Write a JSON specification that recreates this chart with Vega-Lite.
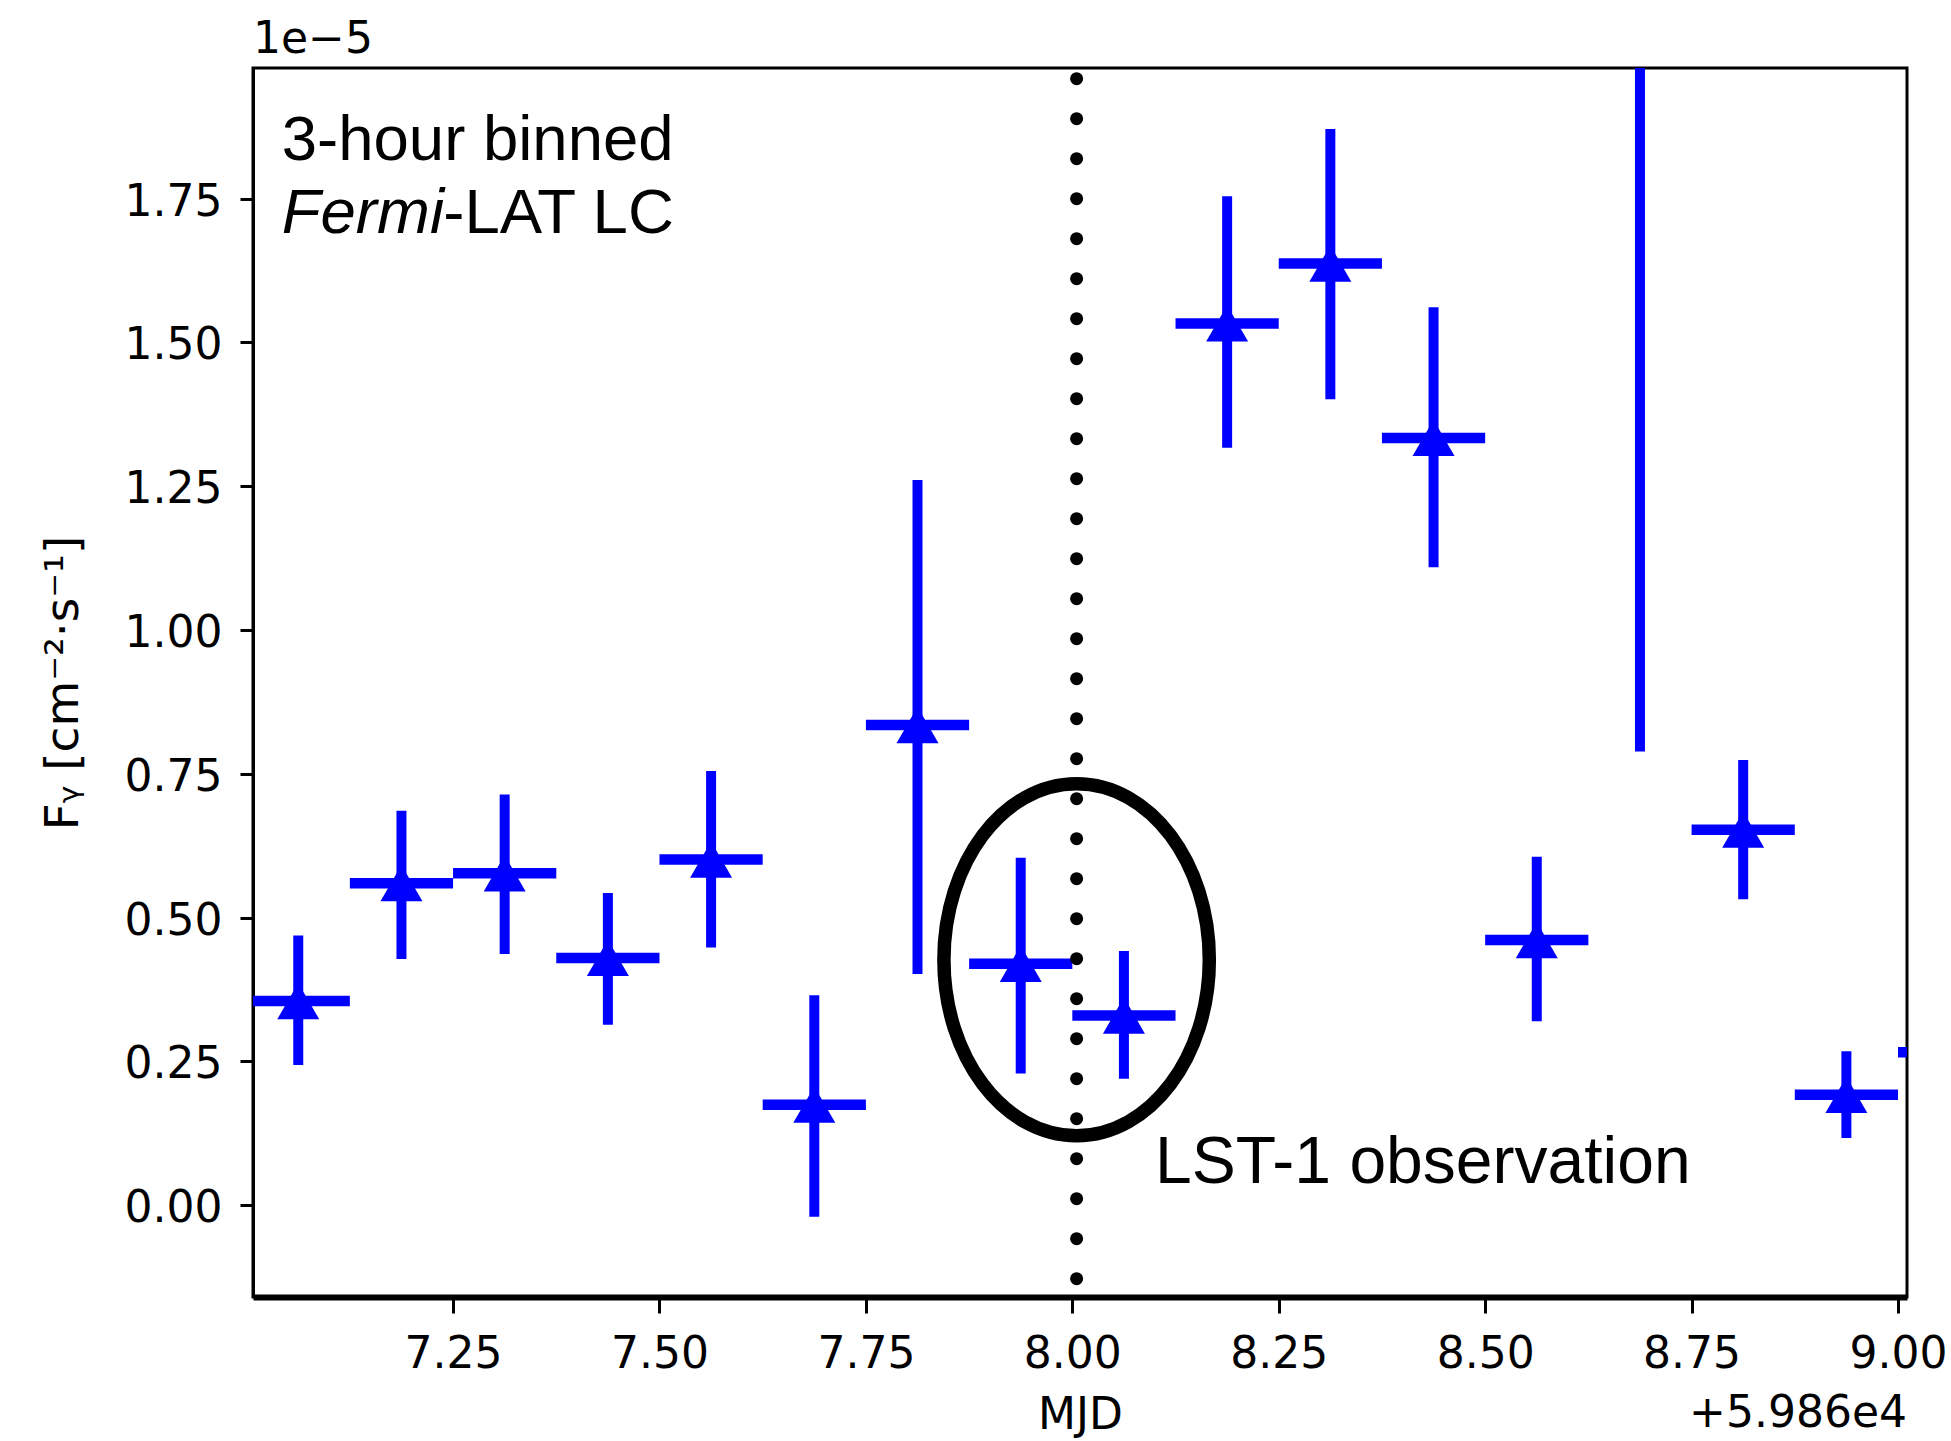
{
  "$schema": "https://vega.github.io/schema/vega-lite/v6.json",
  "width": 1654,
  "height": 1229,
  "autosize": {"type": "none"},
  "padding": {"left": 253, "top": 68, "right": 44, "bottom": 144},
  "background": "white",
  "config": {
    "view": {"stroke": "black", "strokeWidth": 3},
    "axis": {"grid": false, "domainColor": "black", "tickColor": "black", "tickWidth": 3, "labelColor": "black", "titleColor": "black", "labelFont": "DejaVu Sans", "titleFont": "DejaVu Sans", "labelFontSize": 44, "titleFontWeight": "normal"}
  },
  "datasets": {
    "lc": [
      {"t": 7.0625, "t_lo": 7.0, "t_hi": 7.125, "f": 0.355, "f_lo": 0.244, "f_hi": 0.469},
      {"t": 7.1875, "t_lo": 7.125, "t_hi": 7.25, "f": 0.560, "f_lo": 0.428, "f_hi": 0.686},
      {"t": 7.3125, "t_lo": 7.25, "t_hi": 7.375, "f": 0.577, "f_lo": 0.437, "f_hi": 0.714},
      {"t": 7.4375, "t_lo": 7.375, "t_hi": 7.5, "f": 0.430, "f_lo": 0.314, "f_hi": 0.543},
      {"t": 7.5625, "t_lo": 7.5, "t_hi": 7.625, "f": 0.601, "f_lo": 0.448, "f_hi": 0.755},
      {"t": 7.6875, "t_lo": 7.625, "t_hi": 7.75, "f": 0.175, "f_lo": -0.020, "f_hi": 0.365},
      {"t": 7.8125, "t_lo": 7.75, "t_hi": 7.875, "f": 0.835, "f_lo": 0.402, "f_hi": 1.261},
      {"t": 7.9375, "t_lo": 7.875, "t_hi": 8.0, "f": 0.420, "f_lo": 0.229, "f_hi": 0.604},
      {"t": 8.0625, "t_lo": 8.0, "t_hi": 8.125, "f": 0.330, "f_lo": 0.220, "f_hi": 0.442},
      {"t": 8.1875, "t_lo": 8.125, "t_hi": 8.25, "f": 1.533, "f_lo": 1.317, "f_hi": 1.754},
      {"t": 8.3125, "t_lo": 8.25, "t_hi": 8.375, "f": 1.637, "f_lo": 1.401, "f_hi": 1.871},
      {"t": 8.4375, "t_lo": 8.375, "t_hi": 8.5, "f": 1.334, "f_lo": 1.109, "f_hi": 1.561},
      {"t": 8.5625, "t_lo": 8.5, "t_hi": 8.625, "f": 0.461, "f_lo": 0.320, "f_hi": 0.606},
      {"t": 8.6875, "t_lo": 8.625, "t_hi": 8.75, "f": 2.6, "f_lo": 0.789, "f_hi": 4.41},
      {"t": 8.8125, "t_lo": 8.75, "t_hi": 8.875, "f": 0.653, "f_lo": 0.532, "f_hi": 0.774},
      {"t": 8.9375, "t_lo": 8.875, "t_hi": 9.0, "f": 0.192, "f_lo": 0.117, "f_hi": 0.268},
      {"t": 9.0625, "t_lo": 9.0, "t_hi": 9.125, "f": 0.266, "f_lo": 0.19, "f_hi": 0.34}
    ],
    "one": [{}]
  },
  "layer": [
    {
      "data": {"name": "lc"},
      "mark": {"type": "rule", "color": "#0000ff", "strokeWidth": 10, "clip": true},
      "encoding": {
        "x": {"field": "t", "type": "quantitative", "title": "MJD",
          "scale": {"domain": [7.0077, 9.0109], "nice": false, "zero": false},
          "axis": {"values": [7.25, 7.5, 7.75, 8.0, 8.25, 8.5, 8.75, 9.0], "format": ".2f", "domainWidth": 6, "tickSize": 16, "labelPadding": 54, "labelBaseline": "alphabetic", "titleFontSize": 44, "titleBaseline": "alphabetic", "titleY": 131, "labelFlush": false, "labelOverlap": false}},
        "y": {"field": "f_lo", "type": "quantitative", "title": "F\u1d67 [cm\u207b\u00b2\u00b7s\u207b\u00b9]",
          "scale": {"domain": [-0.1594, 1.977], "nice": false, "zero": false},
          "axis": {"values": [0, 0.25, 0.5, 0.75, 1.0, 1.25, 1.5, 1.75], "format": ".2f", "domainWidth": 3, "tickSize": 13, "labelPadding": 18, "labelBaseline": "alphabetic", "labelOffset": 16.5, "titleFontSize": 47, "titleAngle": 270, "titleBaseline": "alphabetic", "titleX": -176, "labelFlush": false, "labelOverlap": false}},
        "y2": {"field": "f_hi"}
      }
    },
    {
      "data": {"name": "lc"},
      "mark": {"type": "rule", "color": "#0000ff", "strokeWidth": 10.5, "clip": true},
      "encoding": {
        "x": {"field": "t_lo", "type": "quantitative", "title": "MJD"},
        "x2": {"field": "t_hi"},
        "y": {"field": "f", "type": "quantitative", "title": "F\u1d67 [cm\u207b\u00b2\u00b7s\u207b\u00b9]"}
      }
    },
    {
      "data": {"name": "lc"},
      "mark": {"type": "point", "shape": "triangle-up", "filled": true, "color": "#0000ff", "opacity": 1, "size": 1764, "strokeWidth": 0, "clip": true},
      "encoding": {
        "x": {"field": "t", "type": "quantitative", "title": "MJD"},
        "y": {"field": "f", "type": "quantitative", "title": "F\u1d67 [cm\u207b\u00b2\u00b7s\u207b\u00b9]"}
      }
    },
    {
      "data": {"name": "one"},
      "mark": {"type": "rule", "color": "black", "strokeWidth": 13, "strokeCap": "round", "strokeDash": [0.1, 39.9]},
      "encoding": {
        "x": {"datum": 8.0052, "type": "quantitative"},
        "y": {"datum": 1.9585, "type": "quantitative"},
        "y2": {"datum": -0.131}
      }
    },
    {
      "data": {"name": "one"},
      "mark": {"type": "point", "shape": "M 0.754 0 C 0.754 0.5523 0.4164 1 0 1 C -0.4164 1 -0.754 0.5523 -0.754 0 C -0.754 -0.5523 -0.4164 -1 0 -1 C 0.4164 -1 0.754 -0.5523 0.754 0 Z", "filled": false, "color": "black", "opacity": 1, "strokeWidth": 13.5, "size": 123904},
      "encoding": {
        "x": {"datum": 8.0052, "type": "quantitative"},
        "y": {"datum": 0.4269, "type": "quantitative"}
      }
    },
    {
      "data": {"name": "one"},
      "mark": {"type": "text", "text": "3-hour binned", "font": "Liberation Sans", "fontSize": 63.5, "align": "left", "baseline": "alphabetic", "color": "black"},
      "encoding": {
        "x": {"datum": 7.0425, "type": "quantitative"},
        "y": {"datum": 1.8164, "type": "quantitative"}
      }
    },
    {
      "data": {"name": "one"},
      "mark": {"type": "text", "text": "Fermi", "font": "Liberation Sans", "fontStyle": "italic", "fontSize": 63.5, "align": "left", "baseline": "alphabetic", "color": "black"},
      "encoding": {
        "x": {"datum": 7.0425, "type": "quantitative"},
        "y": {"datum": 1.6896, "type": "quantitative"}
      }
    },
    {
      "data": {"name": "one"},
      "mark": {"type": "text", "text": "-LAT LC", "font": "Liberation Sans", "fontSize": 63.5, "align": "left", "baseline": "alphabetic", "color": "black"},
      "encoding": {
        "x": {"datum": 7.2381, "type": "quantitative"},
        "y": {"datum": 1.6896, "type": "quantitative"}
      }
    },
    {
      "data": {"name": "one"},
      "mark": {"type": "text", "text": "LST-1 observation", "font": "Liberation Sans", "fontSize": 66, "align": "left", "baseline": "alphabetic", "color": "black"},
      "encoding": {
        "x": {"datum": 8.1001, "type": "quantitative"},
        "y": {"datum": 0.0388, "type": "quantitative"}
      }
    },
    {
      "data": {"name": "one"},
      "mark": {"type": "text", "text": "1e\u22125", "font": "DejaVu Sans", "fontSize": 44, "align": "left", "baseline": "alphabetic", "color": "black"},
      "encoding": {
        "x": {"datum": 7.0077, "type": "quantitative"},
        "y": {"datum": 2.0026, "type": "quantitative"}
      }
    },
    {
      "data": {"name": "one"},
      "mark": {"type": "text", "text": "+5.986e4", "font": "DejaVu Sans", "fontSize": 44, "align": "right", "baseline": "alphabetic", "color": "black"},
      "encoding": {
        "x": {"datum": 9.0109, "type": "quantitative"},
        "y": {"datum": -0.3859, "type": "quantitative"}
      }
    }
  ]
}
